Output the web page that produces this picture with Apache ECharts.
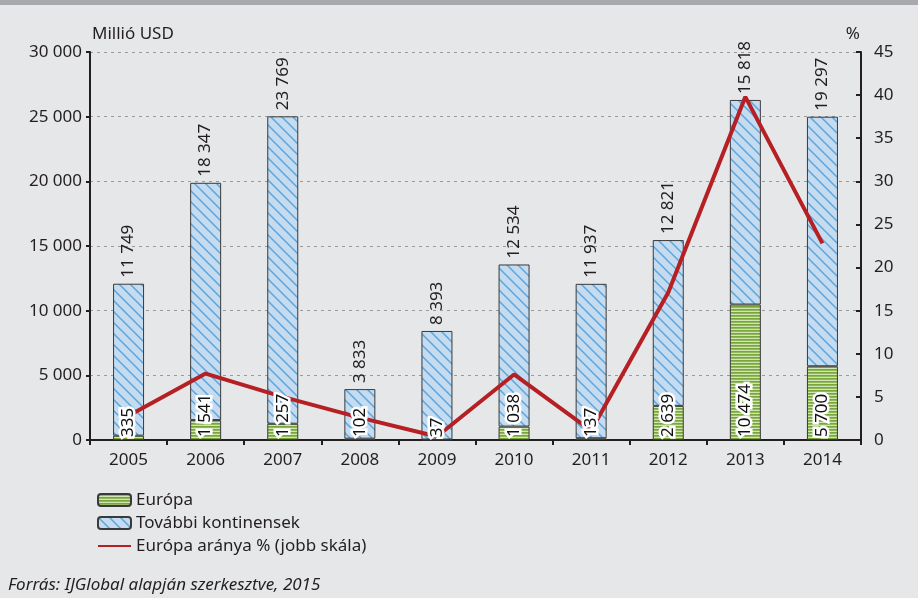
<!DOCTYPE html>
<html>
<head>
<meta charset="utf-8">
<script src="https://cdn.jsdelivr.net/npm/echarts@6/dist/echarts.min.js"></script>
<style>
  html, body { margin: 0; padding: 0; background: #e6e7e8; }
  #chart { width: 918px; height: 598px; }
</style>
</head>
<body>
<div id="chart"></div>
<script>
// data
var years = ['2005', '2006', '2007', '2008', '2009', '2010', '2011', '2012', '2013', '2014'];
var europe = [335, 1541, 1257, 102, 37, 1038, 137, 2639, 10474, 5700];
var otherContinents = [11749, 18347, 23769, 3833, 8393, 12534, 11937, 12821, 15818, 19297];
var europeShare = [2.8, 7.7, 5.0, 2.6, 0.4, 7.6, 1.1, 17.1, 39.8, 22.8];

var FONT = '"Noto Sans", sans-serif';
var TXT = '#231f20';
var RED = '#b52025';

function fmt(v) {
    return String(v).replace(/\B(?=(\d{3})+(?!\d))/g, ' ');
}

// horizontal green stripes
function greenPattern() {
    var c = document.createElement('canvas');
    c.width = 4; c.height = 3;
    var ctx = c.getContext('2d');
    ctx.fillStyle = '#d0e5b3';
    ctx.fillRect(0, 0, 4, 3);
    ctx.fillStyle = '#78a63a';
    ctx.fillRect(0, 0, 4, 1.7);
    return c;
}

// light blue with "\" hatch
function bluePattern() {
    var s = 11;
    var c = document.createElement('canvas');
    c.width = s; c.height = s;
    var ctx = c.getContext('2d');
    ctx.fillStyle = '#c5dcf0';
    ctx.fillRect(0, 0, s, s);
    ctx.strokeStyle = '#5ea5dc';
    ctx.lineWidth = 1.5;
    ctx.beginPath();
    ctx.moveTo(-1, -1); ctx.lineTo(s + 1, s + 1);
    ctx.moveTo(-s - 1, -1); ctx.lineTo(1, s + 1);
    ctx.moveTo(s - 1, -1); ctx.lineTo(2 * s + 1, s + 1);
    ctx.stroke();
    return c;
}

var chart = echarts.init(document.getElementById('chart'));

var option = {
    backgroundColor: '#e6e7e8',
    animation: false,
    textStyle: { fontFamily: FONT, color: TXT },
    grid: { left: 90, right: 57, top: 52, bottom: 158 },
    legend: {
        orient: 'vertical',
        left: 92,
        top: 486,
        itemWidth: 33,
        itemHeight: 12,
        itemGap: 5,
        textStyle: { fontFamily: FONT, fontSize: 17, color: TXT, lineHeight: 18 },
        data: [
            'Európa',
            'További kontinensek',
            { name: 'Európa aránya % (jobb skála)', itemStyle: { opacity: 0 } }
        ]
    },
    graphic: [
        { type: 'rect', left: 0, top: 0, shape: { width: 918, height: 5 }, style: { fill: '#a7a9ac' } },
        {
            type: 'text', left: 8, top: 577,
            style: { text: 'Forrás: IJGlobal alapján szerkesztve, 2015', font: 'italic 17px "Noto Sans", sans-serif', fill: TXT }
        }
    ],
    xAxis: {
        type: 'category',
        data: years,
        axisLine: { lineStyle: { color: '#231f20', width: 2 } },
        axisTick: { show: true, length: 5, lineStyle: { width: 2, color: '#231f20' } },
        axisLabel: { fontSize: 17, color: TXT, margin: 12 }
    },
    yAxis: [
        {
            type: 'value',
            min: 0, max: 30000, interval: 5000,
            name: 'Millió USD',
            nameLocation: 'end',
            nameGap: 9,
            nameTextStyle: { fontSize: 17, color: TXT, align: 'left', padding: [0, 0, 0, 2] },
            axisLine: { show: true, lineStyle: { color: '#231f20', width: 2 } },
            axisTick: { show: true, length: 4, lineStyle: { width: 2, color: '#231f20' } },
            axisLabel: { fontSize: 17, color: TXT, margin: 8, formatter: function (v) { return fmt(v); } },
            splitLine: { show: true, lineStyle: { color: '#9a9a9a', type: [3, 4], width: 1 } }
        },
        {
            type: 'value',
            min: 0, max: 45, interval: 5,
            name: '%',
            nameLocation: 'end',
            nameGap: 9,
            nameTextStyle: { fontSize: 17, color: TXT, align: 'right', padding: [0, 1, 0, 0] },
            axisLine: { show: true, lineStyle: { color: '#231f20', width: 2 } },
            axisTick: { show: true, inside: true, length: 5, lineStyle: { width: 2, color: '#231f20' } },
            axisLabel: { fontSize: 17, color: TXT, margin: 13 },
            splitLine: { show: false }
        }
    ],
    series: [
        {
            name: 'Európa',
            type: 'bar',
            stack: 'total',
            barWidth: 31,
            data: europe,
            itemStyle: { color: { image: greenPattern(), repeat: 'repeat' }, borderColor: '#3a3a3a', borderWidth: 1 },
            label: {
                show: true,
                position: 'insideBottom',
                rotate: 90,
                align: 'left',
                verticalAlign: 'middle',
                distance: 3,
                fontSize: 17,
                color: '#111111',
                textBorderColor: '#ffffff',
                textBorderWidth: 5,
                formatter: function (p) { return fmt(p.value); }
            },
            zlevel: 1,
            z: 3
        },
        {
            name: 'További kontinensek',
            type: 'bar',
            stack: 'total',
            barWidth: 31,
            data: otherContinents,
            itemStyle: { color: { image: bluePattern(), repeat: 'repeat' }, borderColor: '#3a3a3a', borderWidth: 1 },
            label: {
                show: true,
                position: 'top',
                rotate: 90,
                align: 'left',
                verticalAlign: 'middle',
                distance: 6,
                fontSize: 17,
                color: TXT,
                formatter: function (p) { return fmt(p.value); }
            },
            z: 2
        },
        {
            name: 'Európa aránya % (jobb skála)',
            type: 'line',
            yAxisIndex: 1,
            data: europeShare,
            symbol: 'none',
            lineStyle: { color: RED, width: 4 },
            itemStyle: { color: RED },
            z: 4
        }
    ]
};

chart.setOption(option);
</script>
</body>
</html>
